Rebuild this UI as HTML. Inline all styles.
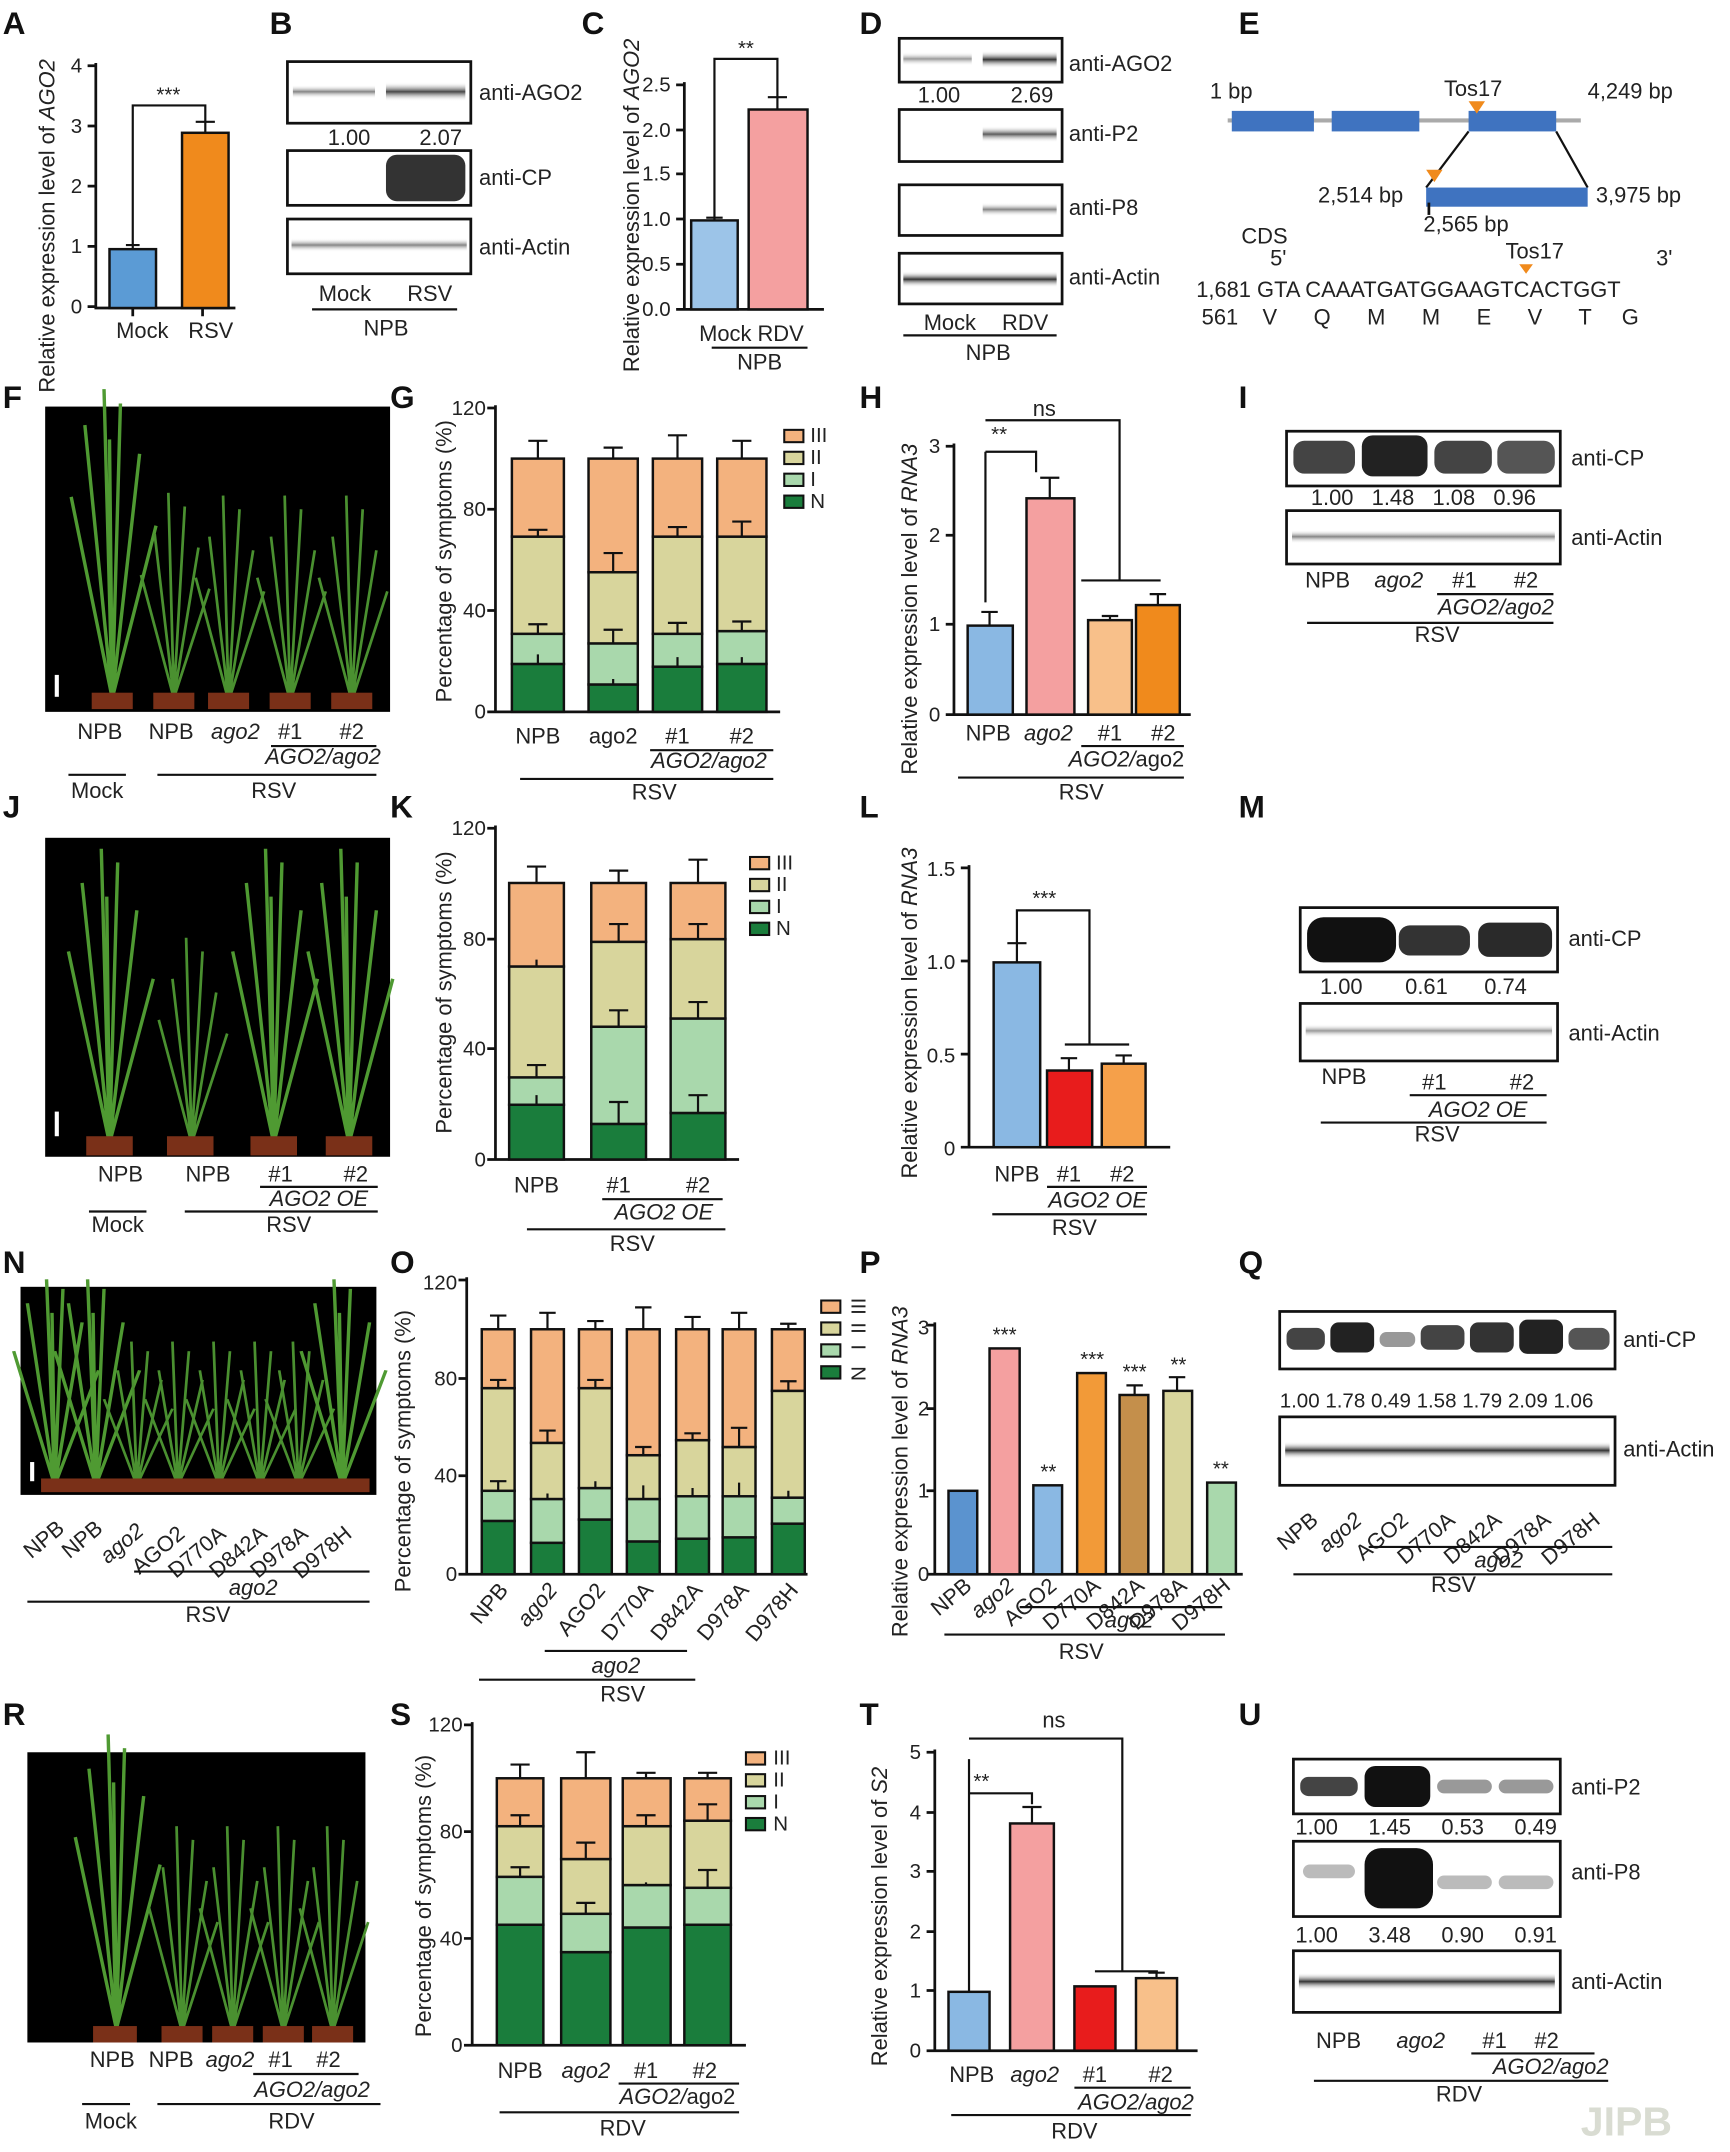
<!DOCTYPE html>
<html><head><meta charset="utf-8"><style>
html,body{margin:0;padding:0;background:#fff;}
svg{display:block;}
text{font-family:"Liberation Sans",Arial,sans-serif;fill:#222;}
.L{font-size:23px;font-weight:bold;fill:#111;}
.t{font-size:15px;}
.s{font-size:16px;}
.ax{stroke:#111;stroke-width:2;fill:none;}
.bar{stroke:#111;stroke-width:1.8;}
.ln{stroke:#111;stroke-width:1.6;fill:none;}
.box{fill:#fff;stroke:#111;stroke-width:2;}
.N{fill:#1a7d3c}.I{fill:#a9d8ac}.II{fill:#d8d59c}.III{fill:#f3b27e}
</style></head><body>
<svg width="1730" height="2152" viewBox="0 0 1264 1572" preserveAspectRatio="none" xmlns="http://www.w3.org/2000/svg">
<defs>
<linearGradient id="band" x1="0" x2="0" y1="0" y2="1"><stop offset="0" stop-color="#fff" stop-opacity="0"/><stop offset="0.5" stop-color="#333"/><stop offset="1" stop-color="#fff" stop-opacity="0"/></linearGradient>
<g id="plant"><path d="M0 0 L-14 -120 M0 0 L-4 -150 M0 0 L8 -140 M0 0 L18 -110 M0 0 L-24 -90 M0 0 L26 -80" stroke="#4a9030" stroke-width="2" fill="none"/></g>
<g id="tall"><path d="M0 0 L-20 -190 M0 0 L-6 -215 M0 0 L6 -205 M0 0 L20 -170 M0 0 L-30 -140 M0 0 L32 -120 M0 0 L-2 -180" stroke="#4f9a32" stroke-width="2.5" fill="none"/></g>
</defs>
<rect width="1264" height="1572" fill="#fff"/>

<!-- ============ A ============ -->
<text class="L" x="2" y="25">A</text>
<text class="s" transform="translate(40,165) rotate(-90)" text-anchor="middle">Relative expression level of <tspan font-style="italic">AGO2</tspan></text>
<path class="ax" d="M70 46 V225 H172 M64 48 H70 M64 92 H70 M64 136 H70 M64 180 H70 M64 224 H70 M97 225 V231 M148 225 V231"/>
<text class="t" x="60" y="53" text-anchor="end">4</text><text class="t" x="60" y="97" text-anchor="end">3</text><text class="t" x="60" y="141" text-anchor="end">2</text><text class="t" x="60" y="185" text-anchor="end">1</text><text class="t" x="60" y="229" text-anchor="end">0</text>
<rect class="bar" x="80" y="182" width="34" height="43" fill="#5b9bd5"/>
<rect class="bar" x="133" y="97" width="34" height="128" fill="#f08a1c"/>
<path class="ln" d="M97 182 V179 M92 179 H102 M150 97 V89 M143 89 H157 M97 180 V77 H150 V91"/>
<text class="t" x="123" y="74" text-anchor="middle">***</text>
<text class="s" x="104" y="247" text-anchor="middle">Mock</text><text class="s" x="154" y="247" text-anchor="middle">RSV</text>

<!-- ============ B ============ -->
<text class="L" x="197" y="25">B</text>
<rect class="box" x="210" y="45" width="134" height="45" fill="#d8d8d8"/>
<rect x="214" y="62" width="60" height="10" fill="url(#band)" opacity="0.6"/><rect x="282" y="60" width="58" height="14" fill="url(#band)" opacity="0.9"/>
<text class="s" x="350" y="73">anti-AGO2</text>
<text class="s" x="255" y="106" text-anchor="middle">1.00</text><text class="s" x="322" y="106" text-anchor="middle">2.07</text>
<rect class="box" x="210" y="110" width="134" height="40"/>
<rect x="282" y="113" width="58" height="34" rx="8" fill="#333"/>
<text class="s" x="350" y="135">anti-CP</text>
<rect class="box" x="210" y="160" width="134" height="40"/>
<rect x="213" y="174" width="128" height="10" fill="url(#band)" opacity="0.6"/>
<text class="s" x="350" y="186">anti-Actin</text>
<text class="s" x="252" y="220" text-anchor="middle">Mock</text><text class="s" x="314" y="220" text-anchor="middle">RSV</text>
<path class="ln" d="M228 226 H334"/><text class="s" x="282" y="245" text-anchor="middle">NPB</text>

<!-- ============ C ============ -->
<text class="L" x="425" y="25">C</text>
<text class="s" transform="translate(467,150) rotate(-90)" text-anchor="middle">Relative expression level of <tspan font-style="italic">AGO2</tspan></text>
<path class="ax" d="M500 60 V226 H602 M494 62 H500 M494 95 H500 M494 127 H500 M494 160 H500 M494 193 H500 M494 226 H500"/>
<text class="t" x="490" y="67" text-anchor="end">2.5</text><text class="t" x="490" y="100" text-anchor="end">2.0</text><text class="t" x="490" y="132" text-anchor="end">1.5</text><text class="t" x="490" y="165" text-anchor="end">1.0</text><text class="t" x="490" y="198" text-anchor="end">0.5</text><text class="t" x="490" y="231" text-anchor="end">0.0</text>
<rect class="bar" x="505" y="161" width="34" height="65" fill="#9cc4e8"/>
<rect class="bar" x="547" y="80" width="43" height="146" fill="#f4a0a0"/>
<path class="ln" d="M522 161 V159 M516 159 H528 M568 80 V71 M561 71 H575 M522 159 V43 H568 V73"/>
<text class="t" x="545" y="40" text-anchor="middle">**</text>
<text class="s" x="549" y="249" text-anchor="middle">Mock RDV</text>
<path class="ln" d="M520 254 H590"/><text class="s" x="555" y="270" text-anchor="middle">NPB</text>

<!-- ============ D ============ -->
<text class="L" x="628" y="25">D</text>
<rect class="box" x="657" y="28" width="119" height="32"/>
<rect x="660" y="38" width="50" height="10" fill="url(#band)" opacity="0.5"/><rect x="718" y="37" width="54" height="13" fill="url(#band)"/>
<text class="s" x="781" y="52">anti-AGO2</text>
<text class="s" x="686" y="75" text-anchor="middle">1.00</text><text class="s" x="754" y="75" text-anchor="middle">2.69</text>
<rect class="box" x="657" y="80" width="119" height="38"/>
<rect x="718" y="92" width="54" height="12" fill="url(#band)" opacity="0.8"/>
<text class="s" x="781" y="103">anti-P2</text>
<rect class="box" x="657" y="135" width="119" height="37"/>
<rect x="718" y="148" width="54" height="10" fill="url(#band)" opacity="0.6"/>
<text class="s" x="781" y="157">anti-P8</text>
<rect class="box" x="657" y="185" width="119" height="37"/>
<rect x="660" y="198" width="112" height="12" fill="url(#band)"/>
<text class="s" x="781" y="208">anti-Actin</text>
<text class="s" x="694" y="241" text-anchor="middle">Mock</text><text class="s" x="749" y="241" text-anchor="middle">RDV</text>
<path class="ln" d="M660 245 H772"/><text class="s" x="722" y="263" text-anchor="middle">NPB</text>

<!-- ============ E ============ -->
<text class="L" x="905" y="25">E</text>
<path d="M897 88 H1155" stroke="#aaa" stroke-width="3"/>
<rect x="900" y="81" width="60" height="15" fill="#3f73c0"/><rect x="973" y="81" width="64" height="15" fill="#3f73c0"/><rect x="1073" y="81" width="64" height="15" fill="#3f73c0"/>
<path d="M1073 74 L1085 74 L1079 83 Z" fill="#f08a1c"/>
<text class="s" x="884" y="72">1 bp</text><text class="s" x="1055" y="70">Tos17</text><text class="s" x="1160" y="72">4,249 bp</text>
<path class="ln" d="M1073 96 L1042 137 M1137 96 L1160 137"/>
<rect x="1042" y="137" width="118" height="14" fill="#3f73c0"/>
<path d="M1044 148 V157" stroke="#111" stroke-width="2"/>
<path d="M1042 124 L1054 124 L1048 133 Z" fill="#f08a1c"/>
<text class="s" x="963" y="148">2,514 bp</text><text class="s" x="1166" y="148">3,975 bp</text><text class="s" x="1040" y="169">2,565 bp</text>
<text class="s" x="907" y="178">CDS</text><text class="s" x="928" y="194">5'</text><text class="s" x="1100" y="189">Tos17</text><text class="s" x="1210" y="194">3'</text>
<path d="M1110 193 L1120 193 L1115 200 Z" fill="#f08a1c"/>
<text class="s" x="874" y="217">1,681 GTA CAAATGATGGAAGTCACTGGT</text>
<text class="s" x="878" y="237" xml:space="preserve">561    V      Q      M      M      E      V      T     G</text>

<!-- ============ F ============ -->
<text class="L" x="2" y="298">F</text>
<rect x="33" y="297" width="252" height="223" fill="#000"/>
<g transform="translate(82,510) scale(1,1.05)"><use href="#tall"/></g>
<use href="#plant" x="127" y="510"/><use href="#plant" x="167" y="512"/><use href="#plant" x="212" y="512"/><use href="#plant" x="257" y="512"/>
<g fill="#7a3018"><rect x="67" y="506" width="30" height="12"/><rect x="112" y="506" width="30" height="12"/><rect x="152" y="506" width="30" height="12"/><rect x="197" y="506" width="30" height="12"/><rect x="242" y="506" width="30" height="12"/></g>
<rect x="40" y="493" width="3" height="16" fill="#fff"/>
<text class="s" x="73" y="540" text-anchor="middle">NPB</text><text class="s" x="125" y="540" text-anchor="middle">NPB</text><text class="s" x="172" y="540" text-anchor="middle" font-style="italic">ago2</text><text class="s" x="212" y="540" text-anchor="middle">#1</text><text class="s" x="257" y="540" text-anchor="middle">#2</text>
<path class="ln" d="M198 545 H275"/><text class="s" x="236" y="558" text-anchor="middle" font-style="italic">AGO2/ago2</text>
<path class="ln" d="M50 566 H92 M115 566 H275"/>
<text class="s" x="71" y="583" text-anchor="middle">Mock</text><text class="s" x="200" y="583" text-anchor="middle">RSV</text>

<!-- ============ G ============ -->
<text class="L" x="285" y="298">G</text>
<text class="s" transform="translate(330,410) rotate(-90)" text-anchor="middle">Percentage of symptoms (%)</text>
<path class="ax" d="M362 296 V520 H570 M356 298 H362 M356 372 H362 M356 446 H362 M356 520 H362"/>
<text class="t" x="355" y="303" text-anchor="end">120</text><text class="t" x="355" y="377" text-anchor="end">80</text><text class="t" x="355" y="451" text-anchor="end">40</text><text class="t" x="355" y="525" text-anchor="end">0</text>
<g class="bar">
<rect class="N" x="374" y="485" width="38" height="35"/><rect class="I" x="374" y="463" width="38" height="22"/><rect class="II" x="374" y="392" width="38" height="71"/><rect class="III" x="374" y="335" width="38" height="57"/>
<rect class="N" x="430" y="500" width="36" height="20"/><rect class="I" x="430" y="470" width="36" height="30"/><rect class="II" x="430" y="418" width="36" height="52"/><rect class="III" x="430" y="335" width="36" height="83"/>
<rect class="N" x="477" y="487" width="36" height="33"/><rect class="I" x="477" y="463" width="36" height="24"/><rect class="II" x="477" y="392" width="36" height="71"/><rect class="III" x="477" y="335" width="36" height="57"/>
<rect class="N" x="524" y="485" width="36" height="35"/><rect class="I" x="524" y="461" width="36" height="24"/><rect class="II" x="524" y="392" width="36" height="69"/><rect class="III" x="524" y="335" width="36" height="57"/>
</g>
<path class="ln" d="M393 335 V322 M386 322 H400 M448 335 V327 M441 327 H455 M495 335 V318 M488 318 H502 M542 335 V322 M535 322 H549 M393 392 V387 M386 387 H400 M448 418 V404 M441 404 H455 M495 392 V385 M488 385 H502 M542 392 V381 M535 381 H549 M393 463 V456 M386 456 H400 M448 470 V460 M441 460 H455 M495 463 V455 M488 455 H502 M542 461 V454 M535 454 H549 M393 485 V478 M448 500 V496 M495 487 V480 M542 485 V480"/>
<g stroke="#111" stroke-width="1.5"><rect class="III" x="573" y="314" width="14" height="9"/><rect class="II" x="573" y="330" width="14" height="9"/><rect class="I" x="573" y="346" width="14" height="9"/><rect class="N" x="573" y="362" width="14" height="9"/></g>
<text class="t" x="592" y="323">III</text><text class="t" x="592" y="339">II</text><text class="t" x="592" y="355">I</text><text class="t" x="592" y="371">N</text>
<text class="s" x="393" y="543" text-anchor="middle">NPB</text><text class="s" x="448" y="543" text-anchor="middle">ago2</text><text class="s" x="495" y="543" text-anchor="middle">#1</text><text class="s" x="542" y="543" text-anchor="middle">#2</text>
<path class="ln" d="M475 548 H565"/><text class="s" x="518" y="561" text-anchor="middle" font-style="italic">AGO2/ago2</text>
<path class="ln" d="M380 569 H565"/><text class="s" x="478" y="584" text-anchor="middle">RSV</text>

<!-- ============ H ============ -->
<text class="L" x="628" y="298">H</text>
<text class="s" transform="translate(670,445) rotate(-90)" text-anchor="middle">Relative expression level of <tspan font-style="italic">RNA3</tspan></text>
<path class="ax" d="M697 324 V522 H870 M691 326 H697 M691 391 H697 M691 456 H697 M691 522 H697"/>
<text class="t" x="687" y="331" text-anchor="end">3</text><text class="t" x="687" y="396" text-anchor="end">2</text><text class="t" x="687" y="461" text-anchor="end">1</text><text class="t" x="687" y="527" text-anchor="end">0</text>
<rect class="bar" x="707" y="457" width="33" height="65" fill="#8ab8e3"/>
<rect class="bar" x="750" y="364" width="35" height="158" fill="#f4a0a0"/>
<rect class="bar" x="795" y="453" width="32" height="69" fill="#f8c08a"/>
<rect class="bar" x="830" y="442" width="32" height="80" fill="#f08a1c"/>
<path class="ln" d="M723 457 V447 M717 447 H729 M767 364 V349 M760 349 H774 M811 453 V450 M805 450 H817 M846 442 V434 M840 434 H852"/>
<path class="ln" d="M720 330 H757 V345 M720 330 V440 M720 307 H818 V424 M790 424 H848"/>
<text class="t" x="730" y="322" text-anchor="middle">**</text><text class="s" x="763" y="304" text-anchor="middle">ns</text>
<text class="s" x="722" y="541" text-anchor="middle">NPB</text><text class="s" x="766" y="541" text-anchor="middle" font-style="italic">ago2</text><text class="s" x="811" y="541" text-anchor="middle">#1</text><text class="s" x="850" y="541" text-anchor="middle">#2</text>
<path class="ln" d="M790 545 H865"/><text class="s" x="823" y="560" text-anchor="middle"><tspan font-style="italic">AGO2/</tspan>ago2</text>
<path class="ln" d="M700 568 H865"/><text class="s" x="790" y="584" text-anchor="middle">RSV</text>

<!-- ============ I ============ -->
<text class="L" x="905" y="298">I</text>
<rect class="box" x="940" y="315" width="200" height="40"/>
<rect x="945" y="322" width="45" height="24" rx="8" fill="#444"/><rect x="995" y="318" width="48" height="30" rx="8" fill="#222"/><rect x="1048" y="322" width="42" height="24" rx="8" fill="#444"/><rect x="1094" y="322" width="42" height="24" rx="8" fill="#555"/>
<text class="s" x="1148" y="340">anti-CP</text>
<text class="s" x="1040" y="369" text-anchor="middle" xml:space="preserve">1.00   1.48   1.08   0.96</text>
<rect class="box" x="940" y="373" width="200" height="39"/>
<rect x="944" y="387" width="192" height="10" fill="url(#band)" opacity="0.6"/>
<text class="s" x="1148" y="398">anti-Actin</text>
<text class="s" x="970" y="429" text-anchor="middle">NPB</text><text class="s" x="1022" y="429" text-anchor="middle" font-style="italic">ago2</text><text class="s" x="1070" y="429" text-anchor="middle">#1</text><text class="s" x="1115" y="429" text-anchor="middle">#2</text>
<path class="ln" d="M1050 434 H1135"/><text class="s" x="1093" y="449" text-anchor="middle" font-style="italic">AGO2/ago2</text>
<path class="ln" d="M955 455 H1135"/><text class="s" x="1050" y="469" text-anchor="middle">RSV</text>

<!-- ============ J ============ -->
<text class="L" x="2" y="597">J</text>
<rect x="33" y="612" width="252" height="233" fill="#000"/>
<use href="#tall" x="80" y="835"/><use href="#plant" x="140" y="835"/><use href="#tall" x="200" y="835"/><use href="#tall" x="255" y="835"/>
<g fill="#7a3018"><rect x="63" y="830" width="34" height="14"/><rect x="122" y="830" width="34" height="14"/><rect x="183" y="830" width="34" height="14"/><rect x="238" y="830" width="34" height="14"/></g>
<rect x="40" y="812" width="3" height="18" fill="#fff"/>
<text class="s" x="88" y="863" text-anchor="middle">NPB</text><text class="s" x="152" y="863" text-anchor="middle">NPB</text><text class="s" x="205" y="863" text-anchor="middle">#1</text><text class="s" x="260" y="863" text-anchor="middle">#2</text>
<path class="ln" d="M190 867 H276"/><text class="s" x="233" y="881" text-anchor="middle" font-style="italic">AGO2 OE</text>
<path class="ln" d="M65 885 H107 M135 885 H276"/>
<text class="s" x="86" y="900" text-anchor="middle">Mock</text><text class="s" x="211" y="900" text-anchor="middle">RSV</text>

<!-- ============ K ============ -->
<text class="L" x="285" y="597">K</text>
<text class="s" transform="translate(330,725) rotate(-90)" text-anchor="middle">Percentage of symptoms (%)</text>
<path class="ax" d="M362 603 V847 H540 M356 605 H362 M356 686 H362 M356 766 H362 M356 847 H362"/>
<text class="t" x="355" y="610" text-anchor="end">120</text><text class="t" x="355" y="691" text-anchor="end">80</text><text class="t" x="355" y="771" text-anchor="end">40</text><text class="t" x="355" y="852" text-anchor="end">0</text>
<g class="bar">
<rect class="N" x="372" y="807" width="40" height="40"/><rect class="I" x="372" y="787" width="40" height="20"/><rect class="II" x="372" y="706" width="40" height="81"/><rect class="III" x="372" y="645" width="40" height="61"/>
<rect class="N" x="432" y="821" width="40" height="26"/><rect class="I" x="432" y="750" width="40" height="71"/><rect class="II" x="432" y="688" width="40" height="62"/><rect class="III" x="432" y="645" width="40" height="43"/>
<rect class="N" x="490" y="813" width="40" height="34"/><rect class="I" x="490" y="744" width="40" height="69"/><rect class="II" x="490" y="686" width="40" height="58"/><rect class="III" x="490" y="645" width="40" height="41"/>
</g>
<path class="ln" d="M392 645 V633 M385 633 H399 M452 645 V636 M445 636 H459 M510 645 V628 M503 628 H517 M392 787 V778 M385 778 H399 M452 750 V738 M445 738 H459 M510 744 V732 M503 732 H517 M392 706 V701 M452 688 V675 M445 675 H459 M510 686 V675 M503 675 H517 M392 807 V800 M452 821 V805 M445 805 H459 M510 813 V800 M503 800 H517"/>
<g stroke="#111" stroke-width="1.5"><rect class="III" x="548" y="626" width="14" height="9"/><rect class="II" x="548" y="642" width="14" height="9"/><rect class="I" x="548" y="658" width="14" height="9"/><rect class="N" x="548" y="674" width="14" height="9"/></g>
<text class="t" x="567" y="635">III</text><text class="t" x="567" y="651">II</text><text class="t" x="567" y="667">I</text><text class="t" x="567" y="683">N</text>
<text class="s" x="392" y="871" text-anchor="middle">NPB</text><text class="s" x="452" y="871" text-anchor="middle">#1</text><text class="s" x="510" y="871" text-anchor="middle">#2</text>
<path class="ln" d="M440 876 H528"/><text class="s" x="485" y="891" text-anchor="middle" font-style="italic">AGO2 OE</text>
<path class="ln" d="M385 898 H530"/><text class="s" x="462" y="914" text-anchor="middle">RSV</text>

<!-- ============ L ============ -->
<text class="L" x="628" y="597">L</text>
<text class="s" transform="translate(670,740) rotate(-90)" text-anchor="middle">Relative expression level of <tspan font-style="italic">RNA3</tspan></text>
<path class="ax" d="M708 632 V838 H855 M702 634 H708 M702 702 H708 M702 770 H708 M702 838 H708"/>
<text class="t" x="698" y="640" text-anchor="end">1.5</text><text class="t" x="698" y="708" text-anchor="end">1.0</text><text class="t" x="698" y="776" text-anchor="end">0.5</text><text class="t" x="698" y="844" text-anchor="end">0</text>
<rect class="bar" x="726" y="703" width="34" height="135" fill="#8ab8e3"/>
<rect class="bar" x="765" y="782" width="33" height="56" fill="#e81c1c"/>
<rect class="bar" x="805" y="777" width="32" height="61" fill="#f5a04a"/>
<path class="ln" d="M743 703 V689 M736 689 H750 M781 782 V773 M775 773 H787 M821 777 V771 M815 771 H827 M743 690 V665 H796 V763 M778 763 H825"/>
<text class="t" x="763" y="661" text-anchor="middle">***</text>
<text class="s" x="743" y="863" text-anchor="middle">NPB</text><text class="s" x="781" y="863" text-anchor="middle">#1</text><text class="s" x="820" y="863" text-anchor="middle">#2</text>
<path class="ln" d="M765 867 H838"/><text class="s" x="802" y="882" text-anchor="middle" font-style="italic">AGO2 OE</text>
<path class="ln" d="M725 887 H838"/><text class="s" x="785" y="902" text-anchor="middle">RSV</text>

<!-- ============ M ============ -->
<text class="L" x="905" y="597">M</text>
<rect class="box" x="950" y="663" width="188" height="47"/>
<rect x="955" y="670" width="65" height="33" rx="12" fill="#111"/><rect x="1022" y="676" width="52" height="22" rx="8" fill="#333"/><rect x="1080" y="674" width="54" height="25" rx="8" fill="#2a2a2a"/>
<text class="s" x="1146" y="691">anti-CP</text>
<text class="s" x="1040" y="726" text-anchor="middle" xml:space="preserve">1.00       0.61      0.74</text>
<rect class="box" x="950" y="733" width="188" height="42"/>
<rect x="954" y="748" width="180" height="10" fill="url(#band)" opacity="0.5"/>
<text class="s" x="1146" y="760">anti-Actin</text>
<text class="s" x="982" y="792" text-anchor="middle">NPB</text><text class="s" x="1048" y="796" text-anchor="middle">#1</text><text class="s" x="1112" y="796" text-anchor="middle">#2</text>
<path class="ln" d="M1030 800 H1130"/><text class="s" x="1080" y="816" text-anchor="middle" font-style="italic">AGO2 OE</text>
<path class="ln" d="M965 820 H1130"/><text class="s" x="1050" y="834" text-anchor="middle">RSV</text>

<!-- ============ N ============ -->
<text class="L" x="2" y="930">N</text>
<rect x="15" y="940" width="260" height="152" fill="#000"/>
<g transform="translate(0,1085) scale(1,0.7)"><use href="#tall" x="40" y="0"/><use href="#tall" x="70" y="0"/><use href="#plant" x="100" y="0"/><use href="#plant" x="130" y="0"/><use href="#plant" x="160" y="0"/><use href="#plant" x="190" y="0"/><use href="#plant" x="218" y="0"/><use href="#tall" x="250" y="0"/></g>
<g fill="#7a3018"><rect x="30" y="1080" width="240" height="10"/></g>
<rect x="22" y="1068" width="3" height="14" fill="#fff"/>
<text class="s" text-anchor="end" transform="translate(48,1118) rotate(-40)">NPB</text><text class="s" text-anchor="end" transform="translate(76,1118) rotate(-40)">NPB</text><text class="s" text-anchor="end" transform="translate(106,1120) rotate(-40)" font-style="italic">ago2</text><text class="s" text-anchor="end" transform="translate(136,1122) rotate(-40)">AGO2</text><text class="s" text-anchor="end" transform="translate(166,1122) rotate(-40)">D770A</text><text class="s" text-anchor="end" transform="translate(196,1122) rotate(-40)">D842A</text><text class="s" text-anchor="end" transform="translate(226,1122) rotate(-40)">D978A</text><text class="s" text-anchor="end" transform="translate(258,1122) rotate(-40)">D978H</text>
<path class="ln" d="M98 1148 H270"/><text class="s" x="185" y="1165" text-anchor="middle" font-style="italic">ago2</text>
<path class="ln" d="M20 1170 H270"/><text class="s" x="152" y="1185" text-anchor="middle">RSV</text>

<!-- ============ O ============ -->
<text class="L" x="285" y="930">O</text>
<text class="s" transform="translate(300,1060) rotate(-90)" text-anchor="middle">Percentage of symptoms (%)</text>
<path class="ax" d="M341 933 V1150 H590 M335 935 H341 M335 1007 H341 M335 1078 H341 M335 1150 H341"/>
<text class="t" x="334" y="942" text-anchor="end">120</text><text class="t" x="334" y="1012" text-anchor="end">80</text><text class="t" x="334" y="1083" text-anchor="end">40</text><text class="t" x="334" y="1155" text-anchor="end">0</text>
<g class="bar">
<rect class="N" x="352" y="1111" width="24" height="39"/><rect class="I" x="352" y="1089" width="24" height="22"/><rect class="II" x="352" y="1014" width="24" height="75"/><rect class="III" x="352" y="971" width="24" height="43"/>
<rect class="N" x="388" y="1127" width="24" height="23"/><rect class="I" x="388" y="1095" width="24" height="32"/><rect class="II" x="388" y="1054" width="24" height="41"/><rect class="III" x="388" y="971" width="24" height="83"/>
<rect class="N" x="423" y="1110" width="24" height="40"/><rect class="I" x="423" y="1087" width="24" height="23"/><rect class="II" x="423" y="1014" width="24" height="73"/><rect class="III" x="423" y="971" width="24" height="43"/>
<rect class="N" x="458" y="1126" width="24" height="24"/><rect class="I" x="458" y="1095" width="24" height="31"/><rect class="II" x="458" y="1063" width="24" height="32"/><rect class="III" x="458" y="971" width="24" height="92"/>
<rect class="N" x="494" y="1124" width="24" height="26"/><rect class="I" x="494" y="1093" width="24" height="31"/><rect class="II" x="494" y="1052" width="24" height="41"/><rect class="III" x="494" y="971" width="24" height="81"/>
<rect class="N" x="528" y="1123" width="24" height="27"/><rect class="I" x="528" y="1093" width="24" height="30"/><rect class="II" x="528" y="1057" width="24" height="36"/><rect class="III" x="528" y="971" width="24" height="86"/>
<rect class="N" x="564" y="1113" width="24" height="37"/><rect class="I" x="564" y="1094" width="24" height="19"/><rect class="II" x="564" y="1016" width="24" height="78"/><rect class="III" x="564" y="971" width="24" height="45"/>
</g>
<path class="ln" d="M364 971 V961 M358 961 H370 M400 971 V959 M394 959 H406 M435 971 V965 M429 965 H441 M470 971 V955 M464 955 H476 M506 971 V962 M500 962 H512 M540 971 V959 M534 959 H546 M576 971 V967 M570 967 H582 M364 1014 V1008 M358 1008 H370 M400 1054 V1045 M394 1045 H406 M435 1014 V1008 M429 1008 H441 M470 1063 V1057 M464 1057 H476 M506 1052 V1047 M500 1047 H512 M540 1057 V1043 M534 1043 H546 M576 1016 V1009 M570 1009 H582 M364 1089 V1082 M358 1082 H370 M400 1095 V1091 M435 1087 V1082 M470 1095 V1085 M506 1093 V1087 M540 1093 V1083 M576 1094 V1089"/>
<g stroke="#111" stroke-width="1.5"><rect class="III" x="600" y="950" width="14" height="9"/><rect class="II" x="600" y="966" width="14" height="9"/><rect class="I" x="600" y="982" width="14" height="9"/><rect class="N" x="600" y="998" width="14" height="9"/></g>
<text class="t" transform="translate(622,948) rotate(90)">III</text><text class="t" transform="translate(622,966) rotate(90)">II</text><text class="t" transform="translate(622,982) rotate(90)">I</text><text class="t" transform="translate(622,998) rotate(90)">N</text>
<text class="s" text-anchor="end" transform="translate(372,1162) rotate(-50)">NPB</text><text class="s" text-anchor="end" transform="translate(408,1162) rotate(-50)" font-style="italic">ago2</text><text class="s" text-anchor="end" transform="translate(443,1162) rotate(-50)">AGO2</text><text class="s" text-anchor="end" transform="translate(478,1162) rotate(-50)">D770A</text><text class="s" text-anchor="end" transform="translate(514,1162) rotate(-50)">D842A</text><text class="s" text-anchor="end" transform="translate(548,1162) rotate(-50)">D978A</text><text class="s" text-anchor="end" transform="translate(584,1162) rotate(-50)">D978H</text>
<path class="ln" d="M398 1206 H502"/><text class="s" x="450" y="1222" text-anchor="middle" font-style="italic">ago2</text>
<path class="ln" d="M350 1227 H508"/><text class="s" x="455" y="1243" text-anchor="middle">RSV</text>

<!-- ============ P ============ -->
<text class="L" x="628" y="930">P</text>
<text class="s" transform="translate(663,1075) rotate(-90)" text-anchor="middle">Relative expression level of <tspan font-style="italic">RNA3</tspan></text>
<path class="ax" d="M683 966 V1150 H908 M677 968 H683 M677 1029 H683 M677 1089 H683 M677 1150 H683"/>
<text class="t" x="679" y="975" text-anchor="end">3</text><text class="t" x="679" y="1034" text-anchor="end">2</text><text class="t" x="679" y="1094" text-anchor="end">1</text><text class="t" x="679" y="1155" text-anchor="end">0</text>
<rect class="bar" x="693" y="1089" width="21" height="61" fill="#5b93cf"/>
<rect class="bar" x="723" y="985" width="22" height="165" fill="#f4a0a0"/>
<rect class="bar" x="755" y="1085" width="21" height="65" fill="#8ab8e3"/>
<rect class="bar" x="787" y="1003" width="21" height="147" fill="#f29a38"/>
<rect class="bar" x="818" y="1019" width="21" height="131" fill="#c48f4b"/>
<rect class="bar" x="850" y="1016" width="21" height="134" fill="#d8d59c"/>
<rect class="bar" x="882" y="1083" width="21" height="67" fill="#a9d8ac"/>
<path class="ln" d="M829 1019 V1012 M823 1012 H835 M860 1016 V1006 M854 1006 H866"/>
<text class="t" x="734" y="980" text-anchor="middle">***</text><text class="t" x="766" y="1080" text-anchor="middle">**</text><text class="t" x="798" y="998" text-anchor="middle">***</text><text class="t" x="829" y="1007" text-anchor="middle">***</text><text class="t" x="861" y="1002" text-anchor="middle">**</text><text class="t" x="892" y="1078" text-anchor="middle">**</text>
<text class="s" text-anchor="end" transform="translate(711,1160) rotate(-40)">NPB</text><text class="s" text-anchor="end" transform="translate(742,1160) rotate(-40)" font-style="italic">ago2</text><text class="s" text-anchor="end" transform="translate(773,1160) rotate(-40)">AGO2</text><text class="s" text-anchor="end" transform="translate(805,1160) rotate(-40)">D770A</text><text class="s" text-anchor="end" transform="translate(837,1160) rotate(-40)">D842A</text><text class="s" text-anchor="end" transform="translate(868,1160) rotate(-40)">D978A</text><text class="s" text-anchor="end" transform="translate(900,1160) rotate(-40)">D978H</text>
<path class="ln" d="M745 1174 H893"/><text class="s" x="825" y="1189" text-anchor="middle" font-style="italic">ago2</text>
<path class="ln" d="M690 1194 H895"/><text class="s" x="790" y="1212" text-anchor="middle">RSV</text>

<!-- ============ Q ============ -->
<text class="L" x="905" y="930">Q</text>
<rect class="box" x="935" y="958" width="245" height="42"/>
<g fill="#444"><rect x="940" y="970" width="28" height="16" rx="6"/><rect x="972" y="966" width="32" height="22" rx="6" fill="#222"/><rect x="1008" y="973" width="26" height="11" rx="5" fill="#999"/><rect x="1038" y="968" width="32" height="18" rx="6"/><rect x="1074" y="966" width="32" height="22" rx="6" fill="#333"/><rect x="1110" y="964" width="32" height="25" rx="6" fill="#222"/><rect x="1146" y="970" width="30" height="16" rx="6" fill="#555"/></g>
<text class="s" x="1186" y="984">anti-CP</text>
<text class="t" x="935" y="1028">1.00 1.78 0.49 1.58 1.79 2.09 1.06</text>
<rect class="box" x="935" y="1035" width="245" height="50"/>
<rect x="939" y="1053" width="237" height="13" fill="url(#band)"/>
<text class="s" x="1186" y="1064">anti-Actin</text>
<text class="s" text-anchor="end" transform="translate(964,1112) rotate(-40)">NPB</text><text class="s" text-anchor="end" transform="translate(996,1112) rotate(-40)" font-style="italic">ago2</text><text class="s" text-anchor="end" transform="translate(1030,1112) rotate(-40)">AGO2</text><text class="s" text-anchor="end" transform="translate(1064,1112) rotate(-40)">D770A</text><text class="s" text-anchor="end" transform="translate(1098,1112) rotate(-40)">D842A</text><text class="s" text-anchor="end" transform="translate(1134,1112) rotate(-40)">D978A</text><text class="s" text-anchor="end" transform="translate(1170,1112) rotate(-40)">D978H</text>
<path class="ln" d="M1000 1130 H1178"/><text class="s" x="1095" y="1145" text-anchor="middle" font-style="italic">ago2</text>
<path class="ln" d="M945 1150 H1178"/><text class="s" x="1062" y="1163" text-anchor="middle">RSV</text>

<!-- ============ R ============ -->
<text class="L" x="2" y="1260">R</text>
<rect x="20" y="1280" width="247" height="212" fill="#000"/>
<use href="#tall" x="85" y="1482"/><use href="#plant" x="133" y="1484"/><use href="#plant" x="170" y="1484"/><use href="#plant" x="207" y="1484"/><use href="#plant" x="243" y="1484"/>
<g fill="#7a3018"><rect x="68" y="1480" width="32" height="12"/><rect x="118" y="1480" width="30" height="12"/><rect x="155" y="1480" width="30" height="12"/><rect x="192" y="1480" width="30" height="12"/><rect x="228" y="1480" width="30" height="12"/></g>
<text class="s" x="82" y="1510" text-anchor="middle">NPB</text><text class="s" x="125" y="1510" text-anchor="middle">NPB</text><text class="s" x="168" y="1510" text-anchor="middle" font-style="italic">ago2</text><text class="s" x="205" y="1510" text-anchor="middle">#1</text><text class="s" x="240" y="1510" text-anchor="middle">#2</text>
<path class="ln" d="M185 1515 H262"/><text class="s" x="228" y="1532" text-anchor="middle" font-style="italic">AGO2/ago2</text>
<path class="ln" d="M60 1537 H95 M115 1537 H278"/>
<text class="s" x="81" y="1555" text-anchor="middle">Mock</text><text class="s" x="213" y="1555" text-anchor="middle">RDV</text>

<!-- ============ S ============ -->
<text class="L" x="285" y="1260">S</text>
<text class="s" transform="translate(315,1385) rotate(-90)" text-anchor="middle">Percentage of symptoms (%)</text>
<path class="ax" d="M345 1258 V1494 H545 M339 1260 H345 M339 1338 H345 M339 1416 H345 M339 1494 H345"/>
<text class="t" x="338" y="1265" text-anchor="end">120</text><text class="t" x="338" y="1343" text-anchor="end">80</text><text class="t" x="338" y="1421" text-anchor="end">40</text><text class="t" x="338" y="1499" text-anchor="end">0</text>
<g class="bar">
<rect class="N" x="363" y="1406" width="34" height="88"/><rect class="I" x="363" y="1371" width="34" height="35"/><rect class="II" x="363" y="1334" width="34" height="37"/><rect class="III" x="363" y="1299" width="34" height="35"/>
<rect class="N" x="410" y="1426" width="36" height="68"/><rect class="I" x="410" y="1398" width="36" height="28"/><rect class="II" x="410" y="1358" width="36" height="40"/><rect class="III" x="410" y="1299" width="36" height="59"/>
<rect class="N" x="455" y="1408" width="35" height="86"/><rect class="I" x="455" y="1377" width="35" height="31"/><rect class="II" x="455" y="1334" width="35" height="43"/><rect class="III" x="455" y="1299" width="35" height="35"/>
<rect class="N" x="500" y="1406" width="34" height="88"/><rect class="I" x="500" y="1379" width="34" height="27"/><rect class="II" x="500" y="1330" width="34" height="49"/><rect class="III" x="500" y="1299" width="34" height="31"/>
</g>
<path class="ln" d="M380 1299 V1289 M373 1289 H387 M428 1299 V1280 M421 1280 H435 M472 1299 V1295 M465 1295 H479 M517 1299 V1295 M510 1295 H524 M380 1334 V1326 M373 1326 H387 M428 1358 V1346 M421 1346 H435 M472 1334 V1326 M465 1326 H479 M517 1330 V1318 M510 1318 H524 M380 1371 V1364 M373 1364 H387 M428 1398 V1390 M421 1390 H435 M472 1377 V1375 M517 1379 V1366 M510 1366 H524"/>
<g stroke="#111" stroke-width="1.5"><rect class="III" x="545" y="1280" width="14" height="9"/><rect class="II" x="545" y="1296" width="14" height="9"/><rect class="I" x="545" y="1312" width="14" height="9"/><rect class="N" x="545" y="1328" width="14" height="9"/></g>
<text class="t" x="565" y="1289">III</text><text class="t" x="565" y="1305">II</text><text class="t" x="565" y="1321">I</text><text class="t" x="565" y="1337">N</text>
<text class="s" x="380" y="1518" text-anchor="middle">NPB</text><text class="s" x="428" y="1518" text-anchor="middle" font-style="italic">ago2</text><text class="s" x="472" y="1518" text-anchor="middle">#1</text><text class="s" x="515" y="1518" text-anchor="middle">#2</text>
<path class="ln" d="M452 1522 H540"/><text class="s" x="495" y="1537" text-anchor="middle"><tspan font-style="italic">AGO2/</tspan>ago2</text>
<path class="ln" d="M365 1543 H540"/><text class="s" x="455" y="1560" text-anchor="middle">RDV</text>

<!-- ============ T ============ -->
<text class="L" x="628" y="1260">T</text>
<text class="s" transform="translate(648,1400) rotate(-90)" text-anchor="middle">Relative expression level of <tspan font-style="italic">S2</tspan></text>
<path class="ax" d="M683 1278 V1498 H875 M677 1280 H683 M677 1324 H683 M677 1367 H683 M677 1411 H683 M677 1454 H683 M677 1498 H683"/>
<text class="t" x="673" y="1285" text-anchor="end">5</text><text class="t" x="673" y="1329" text-anchor="end">4</text><text class="t" x="673" y="1372" text-anchor="end">3</text><text class="t" x="673" y="1416" text-anchor="end">2</text><text class="t" x="673" y="1459" text-anchor="end">1</text><text class="t" x="673" y="1503" text-anchor="end">0</text>
<rect class="bar" x="693" y="1455" width="30" height="43" fill="#8ab8e3"/>
<rect class="bar" x="738" y="1332" width="32" height="166" fill="#f4a0a0"/>
<rect class="bar" x="785" y="1451" width="30" height="47" fill="#e81c1c"/>
<rect class="bar" x="830" y="1445" width="30" height="53" fill="#f8c08a"/>
<path class="ln" d="M754 1332 V1320 M747 1320 H761 M845 1445 V1441 M839 1441 H851 M708 1455 V1285 M708 1310 H754 V1318 M708 1270 H820 V1440 M800 1440 H846"/>
<text class="t" x="717" y="1306" text-anchor="middle">**</text><text class="s" x="770" y="1262" text-anchor="middle">ns</text>
<text class="s" x="710" y="1521" text-anchor="middle">NPB</text><text class="s" x="756" y="1521" text-anchor="middle" font-style="italic">ago2</text><text class="s" x="800" y="1521" text-anchor="middle">#1</text><text class="s" x="848" y="1521" text-anchor="middle">#2</text>
<path class="ln" d="M785 1525 H870"/><text class="s" x="830" y="1541" text-anchor="middle" font-style="italic">AGO2/ago2</text>
<path class="ln" d="M695 1545 H870"/><text class="s" x="785" y="1562" text-anchor="middle">RDV</text>

<!-- ============ U ============ -->
<text class="L" x="905" y="1260">U</text>
<rect class="box" x="945" y="1285" width="195" height="40"/>
<rect x="950" y="1298" width="42" height="14" rx="6" fill="#444"/><rect x="997" y="1290" width="48" height="30" rx="8" fill="#111"/><rect x="1050" y="1300" width="40" height="10" rx="5" fill="#999"/><rect x="1095" y="1300" width="40" height="10" rx="5" fill="#999"/>
<text class="s" x="1148" y="1311">anti-P2</text>
<text class="s" x="1042" y="1340" text-anchor="middle" xml:space="preserve">1.00     1.45     0.53     0.49</text>
<rect class="box" x="945" y="1345" width="195" height="55"/>
<rect x="952" y="1362" width="38" height="10" rx="5" fill="#bbb"/><rect x="997" y="1350" width="50" height="44" rx="12" fill="#111"/><rect x="1050" y="1370" width="40" height="10" rx="5" fill="#bbb"/><rect x="1095" y="1370" width="40" height="10" rx="5" fill="#bbb"/>
<text class="s" x="1148" y="1373">anti-P8</text>
<text class="s" x="1042" y="1419" text-anchor="middle" xml:space="preserve">1.00     3.48     0.90     0.91</text>
<rect class="box" x="945" y="1425" width="195" height="45"/>
<rect x="949" y="1441" width="187" height="13" fill="url(#band)"/>
<text class="s" x="1148" y="1453">anti-Actin</text>
<text class="s" x="978" y="1496" text-anchor="middle">NPB</text><text class="s" x="1038" y="1496" text-anchor="middle" font-style="italic">ago2</text><text class="s" x="1092" y="1496" text-anchor="middle">#1</text><text class="s" x="1130" y="1496" text-anchor="middle">#2</text>
<path class="ln" d="M1075 1500 H1165"/><text class="s" x="1133" y="1515" text-anchor="middle" font-style="italic">AGO2/ago2</text>
<path class="ln" d="M960 1520 H1175"/><text class="s" x="1066" y="1535" text-anchor="middle">RDV</text>
<text x="1155" y="1560" font-size="30" font-weight="bold" style="fill:#d9dcd2">JIPB</text>
</svg>
</body></html>
